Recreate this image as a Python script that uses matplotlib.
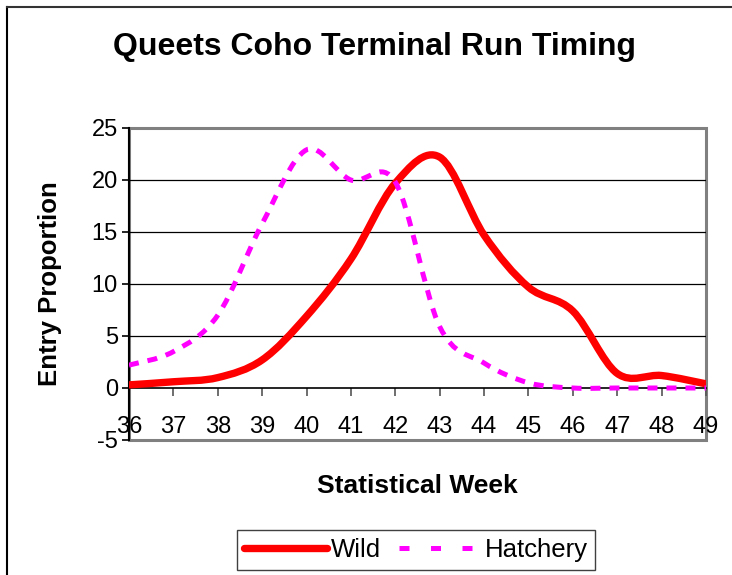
import matplotlib
matplotlib.use('Agg')
import matplotlib.pyplot as plt
from matplotlib.path import Path
from matplotlib.patches import PathPatch, Rectangle
from matplotlib.lines import Line2D

plt.rcParams['font.family'] = ['Liberation Sans', 'DejaVu Sans']
plt.rcParams['axes.unicode_minus'] = False

# weekly entry proportions
weeks = [36, 37, 38, 39, 40, 41, 42, 43, 44, 45, 46, 47, 48, 49]
wild = [0.3, 0.6, 1.0, 2.7, 6.9, 12.4, 19.7, 22.2, 14.7, 9.7, 7.4, 1.4, 1.2, 0.4]
hatchery = [2.2, 3.5, 7.0, 15.8, 22.9, 20.0, 19.8, 5.9, 2.4, 0.5, 0.0, 0.0, 0.0, 0.0]
yticks = [-5, 0, 5, 10, 15, 20, 25]


def smooth_path(xs, ys):
    """Excel-style smoothed line as cubic Bezier segments through the points."""
    n = len(xs)
    verts = [(xs[0], ys[0])]
    codes = [Path.MOVETO]
    for i in range(n - 1):
        x0, y0 = xs[max(i - 1, 0)], ys[max(i - 1, 0)]
        x1, y1 = xs[i], ys[i]
        x2, y2 = xs[i + 1], ys[i + 1]
        x3, y3 = xs[min(i + 2, n - 1)], ys[min(i + 2, n - 1)]
        c1 = (x1 + (x2 - x0) / 6, y1 + (y2 - y0) / 6)
        c2 = (x2 - (x3 - x1) / 6, y2 - (y3 - y1) / 6)
        verts += [c1, c2, (x2, y2)]
        codes += [Path.CURVE4] * 3
    return Path(verts, codes)


fig = plt.figure(figsize=(7.32, 5.75), dpi=100)
ax = fig.add_axes([129 / 732, 1 - 440 / 575, 577 / 732, 312 / 575])

ax.set_xlim(36, 49)
ax.set_ylim(-5, 25)

# gridlines
for y in yticks[2:-1]:
    ax.axhline(y, color='black', lw=0.9, zorder=1)

# gray plot-area frame
ax.add_patch(Rectangle((0, 0), 1, 1, transform=ax.transAxes, fill=False,
                       edgecolor='#808080', lw=2.2, zorder=0.5, clip_on=False))
for side in ['top', 'right']:
    ax.spines[side].set_visible(False)
ax.spines['left'].set_color('black')
ax.spines['left'].set_linewidth(1.5)
ax.spines['bottom'].set_position(('data', 0))
ax.spines['bottom'].set_color('black')
ax.spines['bottom'].set_linewidth(1.2)

ax.add_patch(PathPatch(smooth_path(weeks, wild), fill=False, edgecolor='#FF0000',
                       lw=5.3, capstyle='round', joinstyle='round', zorder=3))
ax.add_patch(PathPatch(smooth_path(weeks, hatchery), fill=False, edgecolor='#FF00FF',
                       lw=3.6, linestyle=(0, (2.0, 1.8)), capstyle='butt', zorder=4))

ax.set_yticks(yticks)
ax.set_xticks(weeks)
ax.set_xticklabels([str(w) for w in weeks])
ax.tick_params(axis='y', direction='out', length=5, width=1.2, pad=3, labelsize=17)
ax.tick_params(axis='x', direction='out', length=6, width=1.2, color='#555555',
               pad=14, labelsize=17)

fig.text(375 / 732, 1 - 47 / 575, 'Queets Coho Terminal Run Timing',
         ha='center', va='center', fontsize=23, fontweight='bold')
fig.text(50 / 732, 1 - 284 / 575, 'Entry Proportion', rotation=90,
         ha='center', va='center', fontsize=18.5, fontweight='bold')
fig.text(417 / 732, 1 - 486 / 575, 'Statistical Week',
         ha='center', va='center', fontsize=19, fontweight='bold')

handles = [Line2D([], [], color='#FF0000', lw=5.3, solid_capstyle='round'),
           Line2D([], [], color='#FF00FF', lw=3.6, linestyle=(0, (2.0, 4.3)))]
leg = fig.legend(handles, ['Wild', 'Hatchery'], loc='center',
                 bbox_to_anchor=(416 / 732, 1 - 550 / 575), ncol=2, fontsize=18.5,
                 frameon=True, fancybox=False, framealpha=1, handlelength=3.2,
                 handletextpad=0.15, columnspacing=0.7, borderpad=0.3,
                 borderaxespad=0)
leg.get_frame().set_edgecolor('#404040')
leg.get_frame().set_linewidth(1.0)

# outer chart border (left and top edges visible)
fig.add_artist(Line2D([7 / 732, 7 / 732], [0, 1 - 7 / 575], color='black',
                      lw=1.5, transform=fig.transFigure))
fig.add_artist(Line2D([7 / 732, 1], [1 - 7 / 575, 1 - 7 / 575], color='#333333',
                      lw=1.5, transform=fig.transFigure))

fig.savefig('out.png', dpi=100)
